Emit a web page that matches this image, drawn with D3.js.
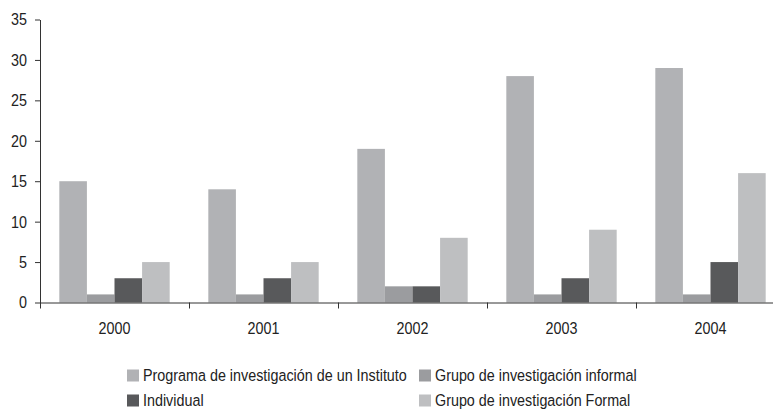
<!DOCTYPE html>
<html>
<head>
<meta charset="utf-8">
<script src="https://cdn.jsdelivr.net/npm/d3@7"></script>
<style>
  html, body { margin: 0; padding: 0; background: #fff; }
  svg text { font-family: "Liberation Sans", Arial, sans-serif; font-size: 17px; fill: #222; }
</style>
</head>
<body>
<svg id="chart" width="773" height="412"></svg>
<script>
// Research projects by type of organisation, 2000-2004
const years = ["2000", "2001", "2002", "2003", "2004"];
const seriesNames = [
  "Programa de investigación de un Instituto",
  "Grupo de investigación informal",
  "Individual",
  "Grupo de investigación Formal"
];
const programaInstituto = [15, 14, 19, 28, 29];
const grupoInformal     = [1, 1, 2, 1, 1];
const individual        = [3, 3, 2, 3, 5];
const grupoFormal       = [5, 5, 8, 9, 16];
const yTicks = [0, 5, 10, 15, 20, 25, 30, 35];

const seriesValues = [programaInstituto, grupoInformal, individual, grupoFormal];
const colors = ["#b1b2b5", "#9b9c9f", "#58595b", "#bebfc1"];

const svg = d3.select("#chart");
const plotLeft = 40, plotRight = 785, plotTop = 19.5, plotBottom = 302.5;

// narrow look: measure the longest legend entry and squeeze all text horizontally
const probe = svg.append("text").text(seriesNames[0]);
const squeeze = 264 / probe.node().getComputedTextLength();
probe.remove();
function condense(sel) {
  sel.each(function () {
    const t = d3.select(this);
    const x = +t.attr("x") || 0;
    t.attr("x", x / squeeze).attr("transform", `scale(${squeeze},1)`);
  });
}

const x0 = d3.scaleBand().domain(years).range([plotLeft, plotRight]).paddingInner(0).paddingOuter(0);
const x1 = d3.scaleBand().domain(d3.range(seriesNames.length))
  .range([0, x0.bandwidth()]).paddingInner(0).paddingOuter(0.7);
const y = d3.scaleLinear().domain([0, 35]).range([plotBottom, plotTop]);

// bars
const groups = svg.append("g").selectAll("g").data(years).join("g")
  .attr("transform", d => `translate(${x0(d)},0)`);
groups.selectAll("rect")
  .data((yr, i) => seriesValues.map((vals, s) => ({ s, v: vals[i] })))
  .join("rect")
  .attr("x", d => x1(d.s))
  .attr("width", x1.bandwidth())
  .attr("y", d => y(d.v))
  .attr("height", d => y(0) - y(d.v))
  .attr("fill", d => colors[d.s]);

// y axis
const yAxis = svg.append("g").attr("transform", `translate(${plotLeft},0)`)
  .call(d3.axisLeft(y).tickValues(yTicks).tickSize(5).tickPadding(8).tickSizeOuter(0));
yAxis.attr("font-family", null).attr("font-size", null);
yAxis.select(".domain").attr("stroke", "#333");
yAxis.selectAll(".tick line").attr("stroke", "#333");
yAxis.selectAll(".tick text").attr("fill", "#222").call(condense);

// x axis: ticks on the boundaries between years
const xEdge = d3.scaleLinear().domain([0, years.length]).range([plotLeft, plotRight]);
const xAxis = svg.append("g").attr("transform", `translate(0,${plotBottom})`)
  .call(d3.axisBottom(xEdge).tickValues(d3.range(years.length + 1)).tickFormat("").tickSize(6).tickSizeOuter(0));
xAxis.select(".domain").attr("stroke", "#333");
xAxis.selectAll(".tick line").attr("stroke", "#333");

// year labels
svg.append("g").selectAll("text").data(years).join("text")
  .attr("x", d => x0(d) + x0.bandwidth() / 2)
  .attr("y", 328)
  .attr("dy", "0.35em")
  .attr("text-anchor", "middle")
  .text(d => d)
  .call(condense);

// legend
const legendPos = [
  { x: 127, y: 375.5 },
  { x: 419, y: 375.5 },
  { x: 127, y: 400.5 },
  { x: 419, y: 400.5 }
];
const legend = svg.append("g").selectAll("g").data(seriesNames).join("g")
  .attr("transform", (d, i) => `translate(${legendPos[i].x},${legendPos[i].y})`);
legend.append("rect").attr("x", 0).attr("y", -6).attr("width", 12).attr("height", 12)
  .attr("fill", (d, i) => colors[i]);
legend.append("text").attr("x", 16).attr("y", 0).attr("dy", "0.35em")
  .text(d => d)
  .call(condense);
</script>
</body>
</html>
